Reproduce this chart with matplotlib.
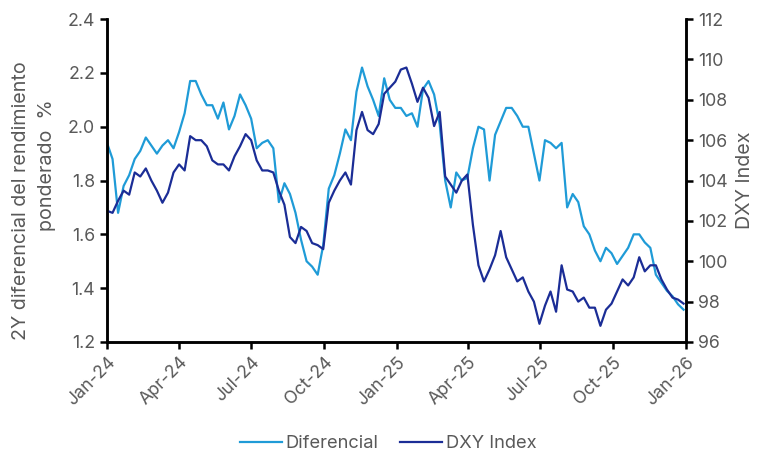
import pandas as pd
import matplotlib
matplotlib.use("Agg")
import matplotlib.pyplot as plt
import matplotlib.dates as mdates

# weekly readings, starting 1 Jan 2024
diferencial = [
    1.94, 1.88, 1.68, 1.78, 1.82, 1.88, 1.91, 1.96, 1.93, 1.90,
    1.93, 1.95, 1.92, 1.98, 2.05, 2.17, 2.17, 2.12, 2.08, 2.08,
    2.03, 2.09, 1.99, 2.04, 2.12, 2.08, 2.03, 1.92, 1.94, 1.95,
    1.92, 1.72, 1.79, 1.75, 1.68, 1.58, 1.50, 1.48, 1.45, 1.56,
    1.77, 1.82, 1.90, 1.99, 1.95, 2.13, 2.22, 2.15, 2.10, 2.04,
    2.18, 2.10, 2.07, 2.07, 2.04, 2.05, 2.00, 2.14, 2.17, 2.12,
    2.01, 1.80, 1.70, 1.83, 1.80, 1.81, 1.92, 2.00, 1.99, 1.80,
    1.97, 2.02, 2.07, 2.07, 2.04, 2.00, 2.00, 1.90, 1.80, 1.95,
    1.94, 1.92, 1.94, 1.70, 1.75, 1.72, 1.63, 1.60, 1.54, 1.50,
    1.55, 1.53, 1.49, 1.52, 1.55, 1.60, 1.60, 1.57, 1.55, 1.45,
    1.42, 1.39, 1.37, 1.34, 1.32,
]
dxy = [
    102.5, 102.4, 103.0, 103.5, 103.3, 104.4, 104.2, 104.6, 104.0, 103.5,
    102.9, 103.4, 104.4, 104.8, 104.5, 106.2, 106.0, 106.0, 105.7, 105.0,
    104.8, 104.8, 104.5, 105.2, 105.7, 106.3, 106.0, 105.0, 104.5, 104.5,
    104.4, 103.5, 102.8, 101.2, 100.9, 101.7, 101.5, 100.9, 100.8, 100.6,
    102.9, 103.5, 104.0, 104.4, 103.8, 106.5, 107.4, 106.5, 106.3, 106.8,
    108.3, 108.6, 108.9, 109.5, 109.6, 108.8, 107.9, 108.6, 108.1, 106.7,
    107.4, 104.2, 103.8, 103.4, 104.0, 104.3, 101.8, 99.8, 99.0, 99.6,
    100.3, 101.5, 100.2, 99.6, 99.0, 99.2, 98.5, 98.0, 96.9, 97.8,
    98.5, 97.5, 99.8, 98.6, 98.5, 98.0, 98.2, 97.7, 97.7, 96.8,
    97.6, 97.9, 98.5, 99.1, 98.8, 99.2, 100.2, 99.5, 99.8, 99.8,
    99.1, 98.6, 98.2, 98.1, 97.9,
]
tick_dates = ["2024-01-01", "2024-04-01", "2024-07-01", "2024-10-01", "2025-01-01",
              "2025-04-01", "2025-07-01", "2025-10-01", "2026-01-01"]

dates = pd.date_range("2024-01-01", periods=len(diferencial), freq="7D")

LIGHT = "#1f9bd7"
DARK = "#1b2d96"
GREY = "#595959"

plt.rcParams["font.family"] = ["Inter", "DejaVu Sans"]

fig = plt.figure(figsize=(7.61, 4.55), dpi=100)
ax = fig.add_axes([0.1406, 0.2484, 0.7608, 0.7096])
ax2 = ax.twinx()

l1, = ax.plot(dates, diferencial, color=LIGHT, lw=1.6, label="Diferencial")
l2, = ax2.plot(dates, dxy, color=DARK, lw=1.6, label="DXY Index")

ax.set_ylim(1.2, 2.4)
ax.set_yticks([1.2, 1.4, 1.6, 1.8, 2.0, 2.2, 2.4])
ax2.set_ylim(96, 112)
ax2.set_yticks(range(96, 113, 2))
ax.set_xlim(pd.Timestamp("2024-01-01"), pd.Timestamp("2026-01-01"))
ax.set_xticks(pd.to_datetime(tick_dates))
ax.xaxis.set_major_formatter(mdates.DateFormatter("%b-%y"))

for a in (ax, ax2):
    a.spines["top"].set_visible(False)
    for s in a.spines.values():
        s.set_linewidth(1.8)
        s.set_color("black")
    a.tick_params(length=5, width=1.8, colors="black", labelcolor=GREY, labelsize=12.8)

plt.setp(ax.get_xticklabels(), rotation=45, ha="right", rotation_mode="anchor")

# left axis title is two lines, the second one sits a bit higher
fig.text(21 / 761, 1 - 201 / 455, "2Y diferencial del rendimiento", rotation=90,
         ha="center", va="center", color=GREY, fontsize=14.2)
fig.text(47 / 761, 1 - 165 / 455, "ponderado  %", rotation=90,
         ha="center", va="center", color=GREY, fontsize=14.2)
ax2.set_ylabel("DXY Index", color=GREY, fontsize=14.2, labelpad=6)

fig.legend(handles=[l1, l2], loc="lower center", bbox_to_anchor=(0.51, -0.03), ncol=2,
           frameon=False, fontsize=13.2, labelcolor=GREY, handlelength=2.3,
           handletextpad=0.2, columnspacing=1.2)

fig.savefig("out.png", dpi=100)
